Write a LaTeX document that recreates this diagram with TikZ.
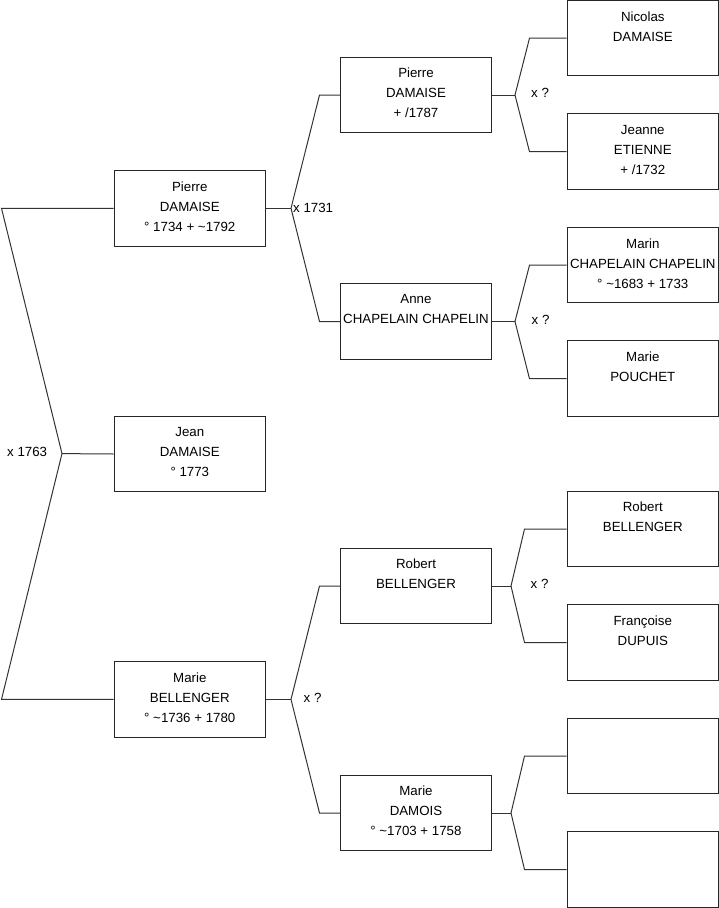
\documentclass[tikz,border=0pt]{standalone}
\usepackage{fontspec}
\setmainfont{Liberation Sans}
\usetikzlibrary{positioning}

\tikzset{
  person/.style={draw=black!85, line width=1pt, minimum width=151.5pt,
    minimum height=75.5pt, inner sep=0pt},
  who/.style={anchor=north, align=center, inner xsep=0pt, inner ysep=11.3pt,
    font=\fontsize{13.3}{20}\selectfont},
  pname/.style={label={[who]north:{#1}}},
  branch/.style={draw=black!80, line width=1pt},
  wed/.style={anchor=west, inner sep=0pt, font=\fontsize{13.3}{16}\selectfont}
}

\begin{document}
\begin{tikzpicture}[x=1pt,y=-1pt]
  \useasboundingbox (0,0) rectangle (719,908);

  % generation 1
  \node[person, pname={Pierre\\DAMAISE\\° 1734 + \textasciitilde1792}] (p1) at (189.8,208.3) {};
  \node[person, pname={Jean\\DAMAISE\\° 1773}] (e1) at (189.8,454) {};
  \node[person, pname={Marie\\BELLENGER\\° \textasciitilde1736 + 1780}] (m1) at (189.8,699.4) {};

  % generation 2
  \node[person, pname={Pierre\\DAMAISE\\+ /1787}] (pp) at (416,95) {};
  \node[person, pname={Anne\\CHAPELAIN CHAPELIN}] (pm) at (416,321.5) {};
  \node[person, pname={Robert\\BELLENGER}] (mp) at (416,586) {};
  \node[person, pname={Marie\\DAMOIS\\° \textasciitilde1703 + 1758}] (mm) at (416,813) {};

  % generation 3
  \node[person, pname={Nicolas\\DAMAISE}] (ppp) at (642.8,38.2) {};
  \node[person, pname={Jeanne\\ETIENNE\\+ /1732}] (ppm) at (642.8,151.7) {};
  \node[person, pname={Marin\\CHAPELAIN CHAPELIN\\° \textasciitilde1683 + 1733}] (pmp) at (642.8,265.2) {};
  \node[person, pname={Marie\\POUCHET}] (pmm) at (642.8,378.7) {};
  \node[person, pname={Robert\\BELLENGER}] (mpp) at (642.8,529) {};
  \node[person, pname={Françoise\\DUPUIS}] (mpm) at (642.8,642.5) {};
  \node[person] (mmp) at (642.8,756) {};
  \node[person] (mmm) at (642.8,869.5) {};

  % fork points and bend columns
  \coordinate (f0) at (62,453.6);
  \coordinate (c0) at (1.5,0);
  \coordinate (fp) at (291,208.3);
  \coordinate (fm) at (291,699.4);
  \coordinate (c1) at (319.5,0);
  \coordinate (fpp) at (515,95);
  \coordinate (fpm) at (515,321.5);
  \coordinate (c2) at (529.5,0);
  \coordinate (fmp) at (511,586);
  \coordinate (fmm) at (511,813);
  \coordinate (c3) at (524.5,0);

  % connectors
  \draw[branch] (e1.west) -- (f0);
  \draw[branch] (p1.west) -- (c0 |- p1.west) -- (f0) -- (c0 |- m1.west) -- (m1.west);

  \draw[branch] (p1.east) -- (fp);
  \draw[branch] (pp.west) -- (c1 |- pp.west) -- (fp) -- (c1 |- pm.west) -- (pm.west);
  \draw[branch] (m1.east) -- (fm);
  \draw[branch] (mp.west) -- (c1 |- mp.west) -- (fm) -- (c1 |- mm.west) -- (mm.west);

  \draw[branch] (pp.east) -- (fpp);
  \draw[branch] (ppp.west) -- (c2 |- ppp.west) -- (fpp) -- (c2 |- ppm.west) -- (ppm.west);
  \draw[branch] (pm.east) -- (fpm);
  \draw[branch] (pmp.west) -- (c2 |- pmp.west) -- (fpm) -- (c2 |- pmm.west) -- (pmm.west);
  \draw[branch] (mp.east) -- (fmp);
  \draw[branch] (mpp.west) -- (c3 |- mpp.west) -- (fmp) -- (c3 |- mpm.west) -- (mpm.west);
  \draw[branch] (mm.east) -- (fmm);
  \draw[branch] (mmp.west) -- (c3 |- mmp.west) -- (fmm) -- (c3 |- mmm.west) -- (mmm.west);

  % marriages
  \node[wed] (w0) at (7,452) {x 1763};
  \node[wed] (wp) at (293,208) {x 1731};
  \node[wed] (wm) at (303.5,698) {x ?};
  \node[wed] (wpp) at (531,93) {x ?};
  \node[wed] (wpm) at (531.5,320) {x ?};
  \node[wed] (wmp) at (530.5,584) {x ?};
\end{tikzpicture}
\end{document}
